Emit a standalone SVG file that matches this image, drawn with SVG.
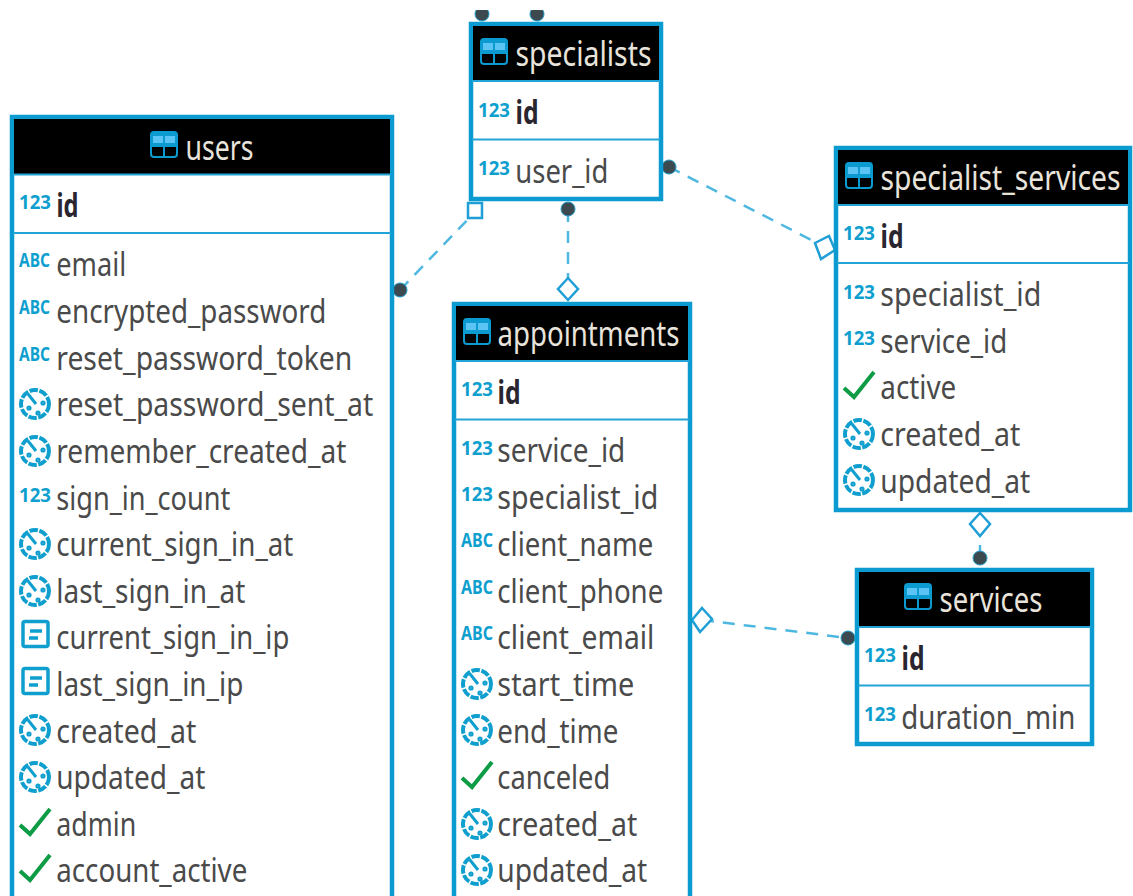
<svg xmlns="http://www.w3.org/2000/svg" width="1133" height="896" viewBox="0 0 1133 896">
<style>
text{font-family:"Noto Sans","Open Sans",sans-serif}
.box{fill:#fff;stroke:#0b9bd0;stroke-width:4.500}
.hd{fill:#000}
.sep{stroke:#22a5d6;stroke-width:2}
.t{font-size:34px;fill:#e8e4dc;transform:translate(-.5px,1.200px)}
.f{font-size:33px;fill:#4a4a4a;transform:translate(-.7px,.7px)}
.k{font-size:33px;fill:#2a2630;font-weight:700;transform:translate(-.5px,.7px)}
.n{font-size:20px;font-weight:700;fill:#0f9fcf}
.a{font-size:19px;font-weight:700;fill:#0f9fcf}
.c{fill:none;stroke:#4fb8e0;stroke-width:2.500;stroke-dasharray:12 9}
.d{fill:#3c4a50;stroke:#1f9bc8;stroke-width:1}
.o{fill:#fff;stroke:#1f9fd6;stroke-width:2.500}
</style>
<defs>
<g id="tbl"><rect x="-13" y="-13" width="26" height="25" rx="3" fill="#000" stroke="#0b9bd0" stroke-width="2"/><rect x="-13" y="-13" width="26" height="14" rx="3" fill="#0b9bd0"/><rect x="-11" y="-9" width="10" height="7" fill="#5cc4f5"/><rect x="1" y="-9" width="10" height="7" fill="#5cc4f5"/><path d="M0 1V12M-13 1H13" stroke="#0b9bd0" stroke-width="2" fill="none"/></g>
<g id="clk" fill="none" stroke="#0f9fcf"><circle r="14" stroke-width="4" stroke-dasharray="8.500 1.500"/><path d="M-7-10L1 0" stroke-width="3"/><circle cx="-6" cy="4" r="1.500" stroke-width="2.200"/><circle cx="3" cy="9" r="1.500" stroke-width="2.200"/><circle cx="8" cy="-1" r="1.500" stroke-width="2.200"/></g>
<path id="chk" d="M-15 1L-5 10L15-15" fill="none" stroke="#0d9b45" stroke-width="4"/>
<g id="ipc" fill="none" stroke="#0f9fcf"><rect x="-12" y="-15.500" width="25" height="25" rx="2" stroke-width="3.500"/><path d="M-5-6H7M-6 1H3" stroke-width="3.500"/></g>
<clipPath id="top"><rect x="460" y="10" width="100" height="20"/></clipPath>
</defs>
<rect width="1133" height="896" fill="#fff"/>
<g id="connectors">
<path class="c" d="M400 290L475 212"/>
<path class="c" d="M568 210V288"/>
<path class="c" d="M669 167L825 247"/>
<path class="c" d="M980 524V558" stroke-dasharray="none"/>
<path class="c" d="M702 620L848 638"/>
<circle class="d" cx="400" cy="290" r="7"/>
<rect class="o" x="468" y="203" width="14" height="15"/>
<circle class="d" cx="568" cy="209" r="7"/>
<path class="o" d="M568 278L578 289L568 300L558 289Z"/>
<circle class="d" cx="669" cy="167" r="7"/>
<path class="o" d="M829 236L835 250L821 259L815 243Z"/>
<path class="o" d="M980 513L990 524L980 536L970 524Z"/>
<circle class="d" cx="980" cy="558" r="7"/>
<path class="o" d="M702 608L712 619L700 632L692 620Z"/>
<circle class="d" cx="848" cy="638" r="7"/>
<g clip-path="url(#top)"><circle class="d" cx="482" cy="14" r="7"/><circle class="d" cx="537" cy="14" r="7"/></g>
</g>
<g id="users">
<rect class="box" x="12" y="117" width="380" height="800"/>
<rect class="hd" x="14" y="119" width="376" height="55"/>
<path class="sep" d="M13 174.500H391M13 233H391"/>
<use href="#tbl" x="164" y="145"/>
<text class="t" x="186" y="159" textLength="68" lengthAdjust="spacingAndGlyphs">users</text>
<text class="n" x="19" y="209" textLength="32" lengthAdjust="spacingAndGlyphs">123</text>
<text class="k" x="57" y="216" textLength="22" lengthAdjust="spacingAndGlyphs">id</text>
<text class="a" x="19" y="267" textLength="31" lengthAdjust="spacingAndGlyphs">ABC</text>
<text class="f" x="57" y="275" textLength="70" lengthAdjust="spacingAndGlyphs">email</text>
<text class="a" x="19" y="314" textLength="31" lengthAdjust="spacingAndGlyphs">ABC</text>
<text class="f" x="57" y="322" textLength="270" lengthAdjust="spacingAndGlyphs">encrypted_password</text>
<text class="a" x="19" y="361" textLength="31" lengthAdjust="spacingAndGlyphs">ABC</text>
<text class="f" x="57" y="369" textLength="296" lengthAdjust="spacingAndGlyphs">reset_password_token</text>
<use href="#clk" x="35" y="404"/>
<text class="f" x="57" y="415" textLength="317" lengthAdjust="spacingAndGlyphs">reset_password_sent_at</text>
<use href="#clk" x="35" y="451"/>
<text class="f" x="57" y="462" textLength="290" lengthAdjust="spacingAndGlyphs">remember_created_at</text>
<text class="n" x="19" y="502" textLength="32" lengthAdjust="spacingAndGlyphs">123</text>
<text class="f" x="57" y="509" textLength="174" lengthAdjust="spacingAndGlyphs">sign_in_count</text>
<use href="#clk" x="35" y="544"/>
<text class="f" x="57" y="555" textLength="237" lengthAdjust="spacingAndGlyphs">current_sign_in_at</text>
<use href="#clk" x="35" y="591"/>
<text class="f" x="57" y="602" textLength="189" lengthAdjust="spacingAndGlyphs">last_sign_in_at</text>
<use href="#ipc" x="35" y="637"/>
<text class="f" x="57" y="648" textLength="233" lengthAdjust="spacingAndGlyphs">current_sign_in_ip</text>
<use href="#ipc" x="35" y="684"/>
<text class="f" x="57" y="695" textLength="187" lengthAdjust="spacingAndGlyphs">last_sign_in_ip</text>
<use href="#clk" x="35" y="730"/>
<text class="f" x="57" y="742" textLength="140" lengthAdjust="spacingAndGlyphs">created_at</text>
<use href="#clk" x="35" y="777"/>
<text class="f" x="57" y="788" textLength="149" lengthAdjust="spacingAndGlyphs">updated_at</text>
<use href="#chk" x="35" y="824"/>
<text class="f" x="57" y="835" textLength="80" lengthAdjust="spacingAndGlyphs">admin</text>
<use href="#chk" x="35" y="870"/>
<text class="f" x="57" y="881" textLength="191" lengthAdjust="spacingAndGlyphs">account_active</text>
</g>
<g id="specialists">
<rect class="box" x="471" y="24" width="190" height="175"/>
<rect class="hd" x="473" y="26" width="186" height="55"/>
<path class="sep" d="M472 81H660M472 139.500H660"/>
<use href="#tbl" x="494" y="52"/>
<text class="t" x="516" y="65" textLength="136" lengthAdjust="spacingAndGlyphs">specialists</text>
<text class="n" x="478" y="117" textLength="32" lengthAdjust="spacingAndGlyphs">123</text>
<text class="k" x="516" y="123" textLength="23" lengthAdjust="spacingAndGlyphs">id</text>
<text class="n" x="478" y="175" textLength="32" lengthAdjust="spacingAndGlyphs">123</text>
<text class="f" x="516" y="182" textLength="93" lengthAdjust="spacingAndGlyphs">user_id</text>
</g>
<g id="appointments">
<rect class="box" x="454" y="304" width="236" height="610"/>
<rect class="hd" x="456" y="306" width="232" height="55"/>
<path class="sep" d="M455 361H689M455 419.500H689"/>
<use href="#tbl" x="477" y="332"/>
<text class="t" x="498" y="345" textLength="182" lengthAdjust="spacingAndGlyphs">appointments</text>
<text class="n" x="461" y="396" textLength="32" lengthAdjust="spacingAndGlyphs">123</text>
<text class="k" x="498" y="403" textLength="23" lengthAdjust="spacingAndGlyphs">id</text>
<text class="n" x="461" y="455" textLength="32" lengthAdjust="spacingAndGlyphs">123</text>
<text class="f" x="498" y="461" textLength="128" lengthAdjust="spacingAndGlyphs">service_id</text>
<text class="n" x="461" y="501" textLength="32" lengthAdjust="spacingAndGlyphs">123</text>
<text class="f" x="498" y="508" textLength="161" lengthAdjust="spacingAndGlyphs">specialist_id</text>
<text class="a" x="461" y="547" textLength="32" lengthAdjust="spacingAndGlyphs">ABC</text>
<text class="f" x="498" y="555" textLength="156" lengthAdjust="spacingAndGlyphs">client_name</text>
<text class="a" x="461" y="594" textLength="32" lengthAdjust="spacingAndGlyphs">ABC</text>
<text class="f" x="498" y="602" textLength="166" lengthAdjust="spacingAndGlyphs">client_phone</text>
<text class="a" x="461" y="640" textLength="32" lengthAdjust="spacingAndGlyphs">ABC</text>
<text class="f" x="498" y="648" textLength="157" lengthAdjust="spacingAndGlyphs">client_email</text>
<use href="#clk" x="477" y="684"/>
<text class="f" x="498" y="695" textLength="137" lengthAdjust="spacingAndGlyphs">start_time</text>
<use href="#clk" x="477" y="730"/>
<text class="f" x="498" y="742" textLength="121" lengthAdjust="spacingAndGlyphs">end_time</text>
<use href="#chk" x="477" y="777"/>
<text class="f" x="498" y="788" textLength="113" lengthAdjust="spacingAndGlyphs">canceled</text>
<use href="#clk" x="477" y="824"/>
<text class="f" x="498" y="835" textLength="140" lengthAdjust="spacingAndGlyphs">created_at</text>
<use href="#clk" x="477" y="870"/>
<text class="f" x="498" y="881" textLength="150" lengthAdjust="spacingAndGlyphs">updated_at</text>
</g>
<g id="specialist_services">
<rect class="box" x="836" y="148" width="294" height="362"/>
<rect class="hd" x="838" y="150" width="290" height="55"/>
<path class="sep" d="M837 205H1129M837 263H1129"/>
<use href="#tbl" x="859" y="176"/>
<text x="0" y="0" font-size="34" fill="#e8e4dc" transform="translate(880.500 190.200) scale(.8 1)" textLength="300" lengthAdjust="spacingAndGlyphs">specialist_services</text>
<text class="n" x="843" y="240" textLength="32" lengthAdjust="spacingAndGlyphs">123</text>
<text class="k" x="881" y="247" textLength="23" lengthAdjust="spacingAndGlyphs">id</text>
<text class="n" x="843" y="299" textLength="32" lengthAdjust="spacingAndGlyphs">123</text>
<text class="f" x="881" y="305" textLength="161" lengthAdjust="spacingAndGlyphs">specialist_id</text>
<text class="n" x="843" y="345" textLength="32" lengthAdjust="spacingAndGlyphs">123</text>
<text class="f" x="881" y="352" textLength="127" lengthAdjust="spacingAndGlyphs">service_id</text>
<use href="#chk" x="859" y="387"/>
<text class="f" x="881" y="398" textLength="76" lengthAdjust="spacingAndGlyphs">active</text>
<use href="#clk" x="859" y="434"/>
<text class="f" x="881" y="445" textLength="140" lengthAdjust="spacingAndGlyphs">created_at</text>
<use href="#clk" x="859" y="480"/>
<text class="f" x="881" y="492" textLength="150" lengthAdjust="spacingAndGlyphs">updated_at</text>
</g>
<g id="services">
<rect class="box" x="857" y="570" width="235" height="174"/>
<rect class="hd" x="859" y="572" width="231" height="55"/>
<path class="sep" d="M858 627H1091M858 685.500H1091"/>
<use href="#tbl" x="918" y="597"/>
<text class="t" x="940" y="611" textLength="103" lengthAdjust="spacingAndGlyphs">services</text>
<text class="n" x="864" y="662" textLength="32" lengthAdjust="spacingAndGlyphs">123</text>
<text class="k" x="902" y="669" textLength="23" lengthAdjust="spacingAndGlyphs">id</text>
<text class="n" x="864" y="721" textLength="32" lengthAdjust="spacingAndGlyphs">123</text>
<text class="f" x="902" y="728" textLength="174" lengthAdjust="spacingAndGlyphs">duration_min</text>
</g>
</svg>
